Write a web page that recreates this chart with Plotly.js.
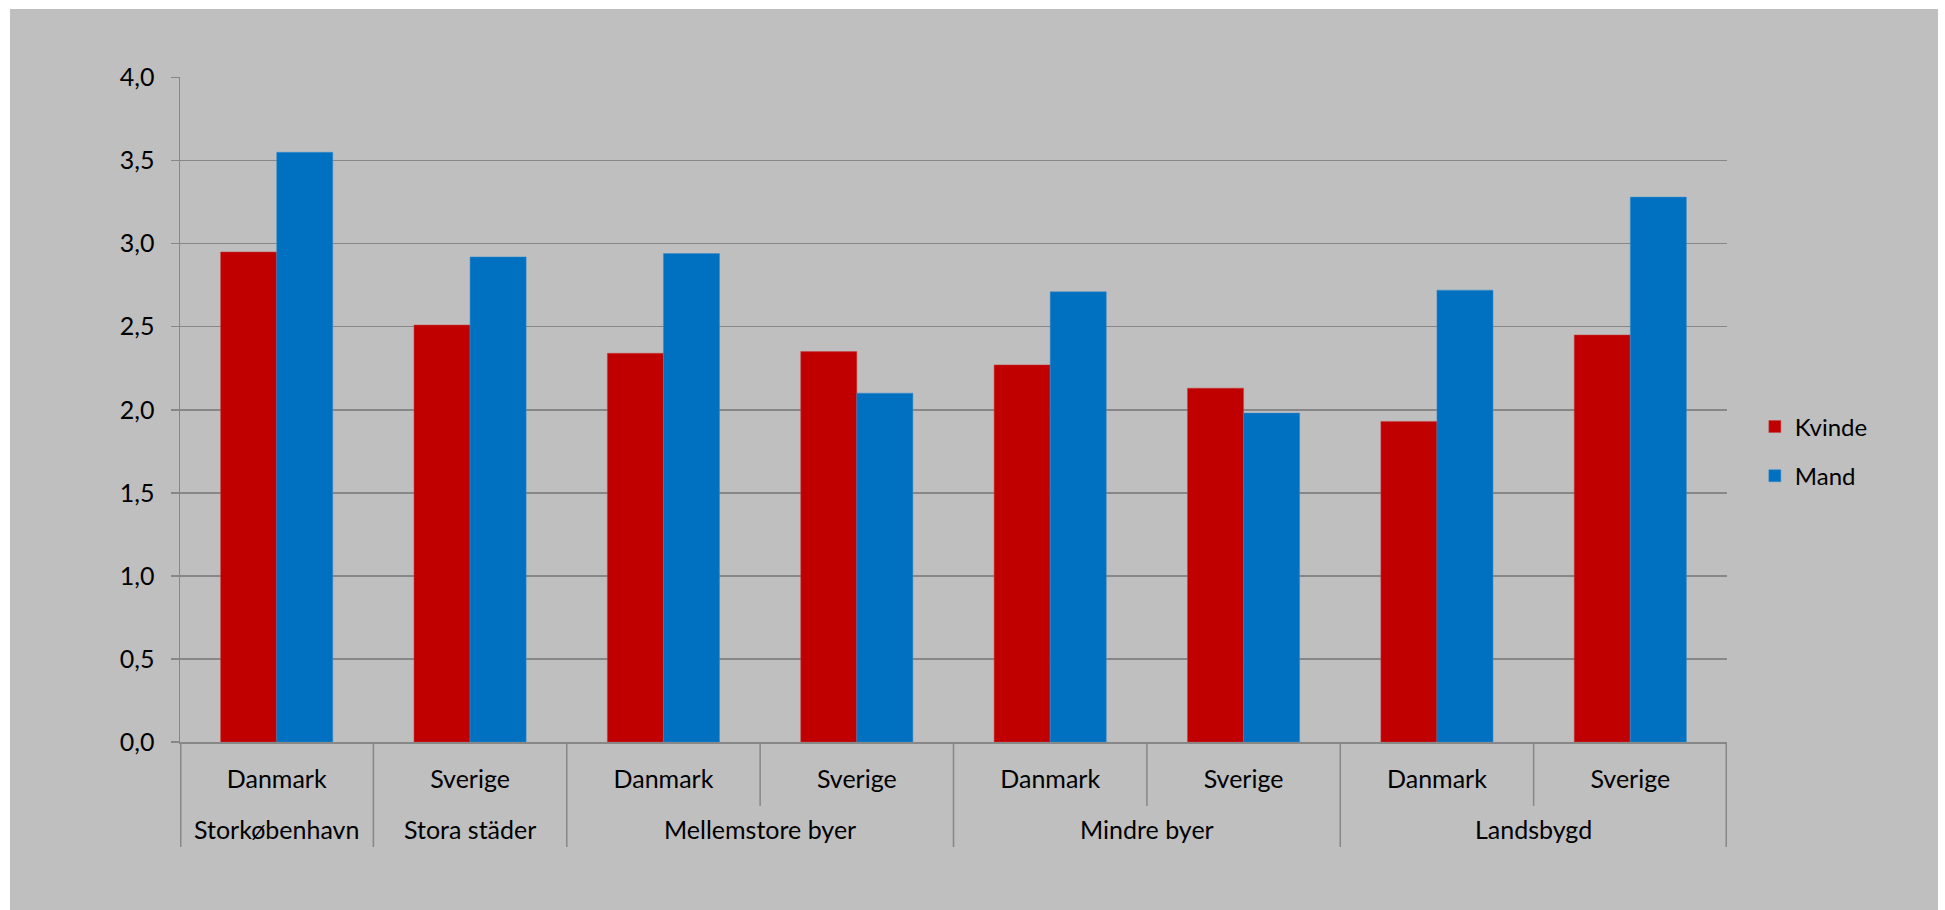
<!DOCTYPE html>
<html>
<head>
<meta charset="utf-8">
<script src="https://cdn.plot.ly/plotly-3.0.1.min.js"></script>
<style>
  html, body { margin: 0; padding: 0; background: #ffffff; }
  #chart { position: absolute; left: 10px; top: 9px; width: 1928px; height: 901px; }
</style>
</head>
<body>
<div id="chart"></div>
<script>
const groups = ["Storkøbenhavn", "Stora städer", "Mellemstore byer", "Mellemstore byer", "Mindre byer", "Mindre byer", "Landsbygd", "Landsbygd"];
const countries = ["Danmark", "Sverige", "Danmark", "Sverige", "Danmark", "Sverige", "Danmark", "Sverige"];
const kvinde = [2.95, 2.51, 2.34, 2.35, 2.27, 2.13, 1.93, 2.45];
const mand = [3.55, 2.92, 2.94, 2.10, 2.71, 1.98, 2.72, 3.28];
const yTicks = [0, 0.5, 1, 1.5, 2, 2.5, 3, 3.5, 4];
const yTickText = ["0,0", "0,5", "1,0", "1,5", "2,0", "2,5", "3,0", "3,5", "4,0"];

const fontFamily = "Lato, 'Open Sans', sans-serif";
const fs = 25;
const plotH = 665;
const lineCol = "#878787";

// category positions on the x axis (one slot per country column)
const xIdx = countries.map((_, i) => i);

const traces = [
  {
    type: "bar", name: "Kvinde", x: xIdx, y: kvinde,
    marker: { color: "#C00000", line: { color: "#C84040", width: 0.5 } },
    legendgroup: "a", hoverinfo: "skip"
  },
  {
    type: "bar", name: "Mand", x: xIdx, y: mand,
    marker: { color: "#0070C0", line: { color: "#3a8ccc", width: 0.5 } },
    legendgroup: "b", hoverinfo: "skip"
  }
];

// dividers at category boundaries: long ones between groups, short ones inside a group
const shapes = [];
for (let i = 0; i <= countries.length; i++) {
  const isEdge = (i === 0 || i === countries.length);
  const isGroup = isEdge || groups[i] !== groups[i - 1];
  const len = isGroup ? 105 : 64;
  shapes.push({
    type: "line", xref: "x", yref: "paper",
    x0: i - 0.5, x1: i - 0.5, y0: 0, y1: -len / plotH,
    line: { color: lineCol, width: isEdge ? 3 : 1.5 }
  });
}

// group labels centred under their columns
const annotations = [];
const uniqueGroups = [...new Set(groups)];
uniqueGroups.forEach(g => {
  const idx = xIdx.filter(i => groups[i] === g);
  const cx = idx.reduce((a, b) => a + b, 0) / idx.length;
  annotations.push({
    xref: "x", yref: "paper", x: cx, y: -87 / plotH,
    text: g, showarrow: false, xanchor: "center", yanchor: "middle",
    font: { family: fontFamily, size: fs, color: "#000000" }
  });
});

const layout = {
  width: 1928, height: 901,
  paper_bgcolor: "#BFBFBF",
  plot_bgcolor: "#BFBFBF",
  margin: { l: 170, r: 211, t: 68, b: 168 },
  barmode: "group",
  bargap: 0.42,
  bargroupgap: 0,
  font: { family: fontFamily, size: fs, color: "#000000" },
  showlegend: true,
  legend: {
    x: 1.018, y: 0.437, xanchor: "left", yanchor: "middle",
    bgcolor: "rgba(0,0,0,0)",
    font: { family: fontFamily, size: 24, color: "#000000" },
    tracegroupgap: 15, itemwidth: 30
  },
  xaxis: {
    type: "linear",
    range: [-0.5, countries.length - 0.5],
    tickvals: xIdx, ticktext: countries,
    ticks: "", ticklabelstandoff: 14,
    showline: true, linecolor: lineCol, linewidth: 1.5,
    showgrid: false, zeroline: false,
    tickfont: { family: fontFamily, size: fs, color: "#000000" },
    fixedrange: true
  },
  yaxis: {
    range: [0, 4.003],
    tickvals: yTicks, ticktext: yTickText,
    showgrid: true, gridcolor: lineCol, gridwidth: 1.5,
    showline: true, linecolor: lineCol, linewidth: 1.5,
    ticks: "outside", ticklen: 8, tickcolor: lineCol, tickwidth: 1.5,
    ticklabelstandoff: 11,
    zeroline: false,
    tickfont: { family: fontFamily, size: fs, color: "#000000" },
    fixedrange: true
  },
  shapes: shapes,
  annotations: annotations
};

Plotly.newPlot("chart", traces, layout, { staticPlot: true, displayModeBar: false });
</script>
</body>
</html>
